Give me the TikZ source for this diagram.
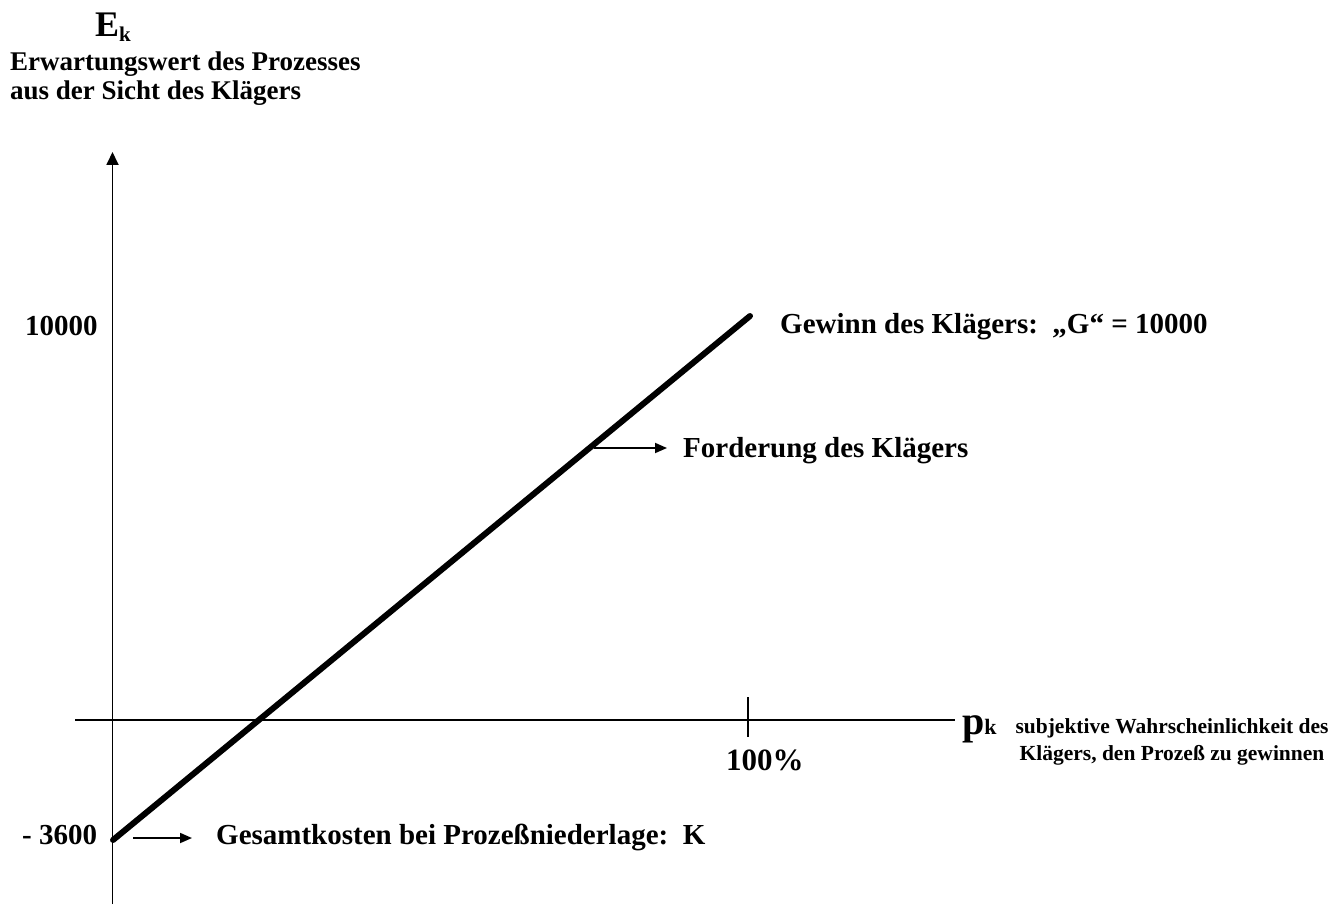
\documentclass[tikz,border=0pt]{standalone}
\usepackage{fontspec}
\setmainfont{Liberation Serif}
\usetikzlibrary{arrows.meta}
\begin{document}
\begin{tikzpicture}[x=1pt,y=-1pt,
  txt/.style={anchor=base west, inner sep=0pt, font=\bfseries\fontsize{29}{31}\selectfont},
  axisline/.style={line width=1.8pt},
  ptr/.style={line width=1.8pt, -{Triangle[length=12pt,width=10pt]}},
  graphline/.style={line width=6pt, line cap=round}]
\useasboundingbox (0,0) rectangle (1337,904);

% axes
\coordinate (ybot) at (112.5,904);
\coordinate (ytop) at (112.5,152);
\coordinate (xleft) at (75,720);
\coordinate (xright) at (955,720);
\draw[axisline,-{Triangle[length=13pt,width=12pt]}] (ybot) -- (ytop);
\draw[axisline] (xleft) -- (xright);
\coordinate (ticktop) at (748,697);
\coordinate (tickbot) at (748,737);
\draw[line width=2.4pt] (ticktop) -- (tickbot);

% expected value line from -K to G
\coordinate (K) at (113,840);
\coordinate (G) at (750,316);
\draw[graphline] (K) -- (G);

% vertical axis title (base anchor = last line's baseline)
\node[anchor=base west, inner sep=0pt] (Ek) at (95,37)
  {\bfseries\fontsize{36}{36}\selectfont E\raisebox{-5pt}{\fontsize{21}{21}\selectfont k}};
\node[anchor=base west, inner sep=0pt, align=left,
      font=\bfseries\fontsize{27}{28.5}\selectfont] (ytitle) at (10,99.5)
  {Erwartungswert des Prozesses\\aus der Sicht des Klägers};

% value labels
\node[txt] (v10000) at (25,335) {10000};
\node[txt] (v3600) at (22,844) {- 3600};
\node[txt, font=\bfseries\fontsize{31}{31}\selectfont] (p100) at (726,770) {100\%};

% horizontal axis title
\node[anchor=base west, inner sep=0pt] (pk) at (962,734)
  {\bfseries\fontsize{40}{40}\selectfont p{\fontsize{22}{22}\selectfont k}};
\node[anchor=base, inner sep=0pt, align=center,
      font=\bfseries\fontsize{21.5}{27}\selectfont] (xtitle) at (1172,760)
  {subjektive Wahrscheinlichkeit des\\Klägers, den Prozeß zu gewinnen};

% annotations
\node[txt] (gewinn) at (780,333) {Gewinn des Klägers:\ \ „G“ = 10000};
\node[txt] (ford) at (683,457) {Forderung des Klägers};
\node[txt] (kosten) at (216,844) {Gesamtkosten bei Prozeßniederlage:\ \ K};

\coordinate (fordfrom) at (594,448);
\coordinate (fordto) at (667,448);
\draw[ptr] (fordfrom) -- (fordto);
\coordinate (kostfrom) at (133,838);
\coordinate (kostto) at (192,838);
\draw[ptr] (kostfrom) -- (kostto);
\end{tikzpicture}
\end{document}
